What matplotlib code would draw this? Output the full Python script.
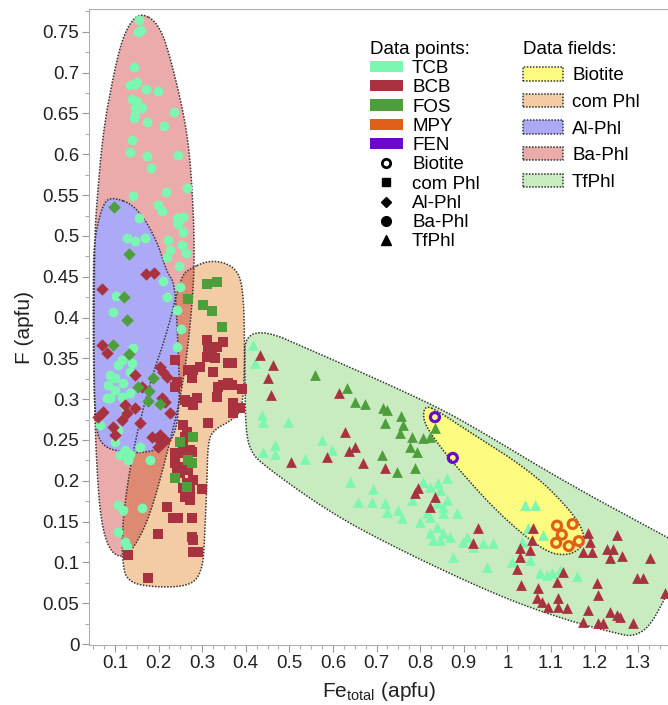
import numpy as np
import matplotlib.pyplot as plt
from matplotlib.patches import Polygon, Patch
from matplotlib.lines import Line2D
from matplotlib.ticker import MultipleLocator, FuncFormatter

plt.rcParams['font.family'] = ['Liberation Sans', 'DejaVu Sans']
plt.rcParams['mathtext.fontset'] = 'custom'
plt.rcParams['mathtext.rm'] = 'Liberation Sans'

# ---- data fields (outline vertices, Fe_total / F) ----
ba_phl_field = [(0.157, 0.775), (0.203, 0.759), (0.233, 0.707), (0.267, 0.626), (0.279, 0.544),
                (0.283, 0.462), (0.272, 0.385), (0.254, 0.311), (0.222, 0.238), (0.180, 0.156),
                (0.141, 0.115), (0.111, 0.105), (0.084, 0.118), (0.066, 0.156), (0.056, 0.238),
                (0.052, 0.324), (0.052, 0.422), (0.054, 0.507), (0.059, 0.544), (0.072, 0.626),
                (0.100, 0.707), (0.123, 0.752)]
al_phl_field = [(0.095, 0.548), (0.150, 0.536), (0.196, 0.495), (0.219, 0.455), (0.238, 0.442),
                (0.245, 0.360), (0.249, 0.299), (0.238, 0.254), (0.203, 0.238), (0.141, 0.233),
                (0.066, 0.241), (0.054, 0.278), (0.050, 0.360), (0.050, 0.442), (0.052, 0.495),
                (0.072, 0.540)]
com_phl_field = [(0.265, 0.458), (0.318, 0.471), (0.371, 0.464), (0.394, 0.442), (0.398, 0.360),
                 (0.394, 0.290), (0.371, 0.275), (0.325, 0.262), (0.313, 0.246), (0.311, 0.197),
                 (0.306, 0.136), (0.302, 0.094), (0.279, 0.072), (0.203, 0.069), (0.128, 0.075),
                 (0.116, 0.103), (0.118, 0.156), (0.141, 0.238), (0.180, 0.320), (0.219, 0.381),
                 (0.242, 0.430), (0.254, 0.450)]
tf_phl_field = [(0.398, 0.395), (0.593, 0.350), (0.806, 0.299), (0.907, 0.271), (1.137, 0.197),
                (1.366, 0.131), (1.430, 0.112), (1.400, 0.095), (1.368, 0.063), (1.327, 0.021),
                (1.288, 0.009), (1.251, 0.013), (1.137, 0.029), (0.983, 0.058), (0.754, 0.115),
                (0.593, 0.161), (0.433, 0.222), (0.410, 0.238), (0.400, 0.262), (0.398, 0.324)]
biotite_field = [(0.811, 0.293), (0.845, 0.284), (0.907, 0.262), (1.059, 0.210), (1.150, 0.161),
                 (1.178, 0.134), (1.171, 0.118), (1.137, 0.108), (1.086, 0.113), (0.983, 0.158),
                 (0.875, 0.222), (0.829, 0.254), (0.806, 0.275)]

# ---- data points (Fe_total, F) ----
tcb_circles = [(0.155, 0.765), (0.153, 0.750), (0.160, 0.752), (0.144, 0.707), (0.134, 0.685),
               (0.146, 0.686), (0.150, 0.688), (0.171, 0.680), (0.199, 0.677), (0.139, 0.668),
               (0.150, 0.664), (0.146, 0.658), (0.162, 0.657), (0.146, 0.648), (0.235, 0.652),
               (0.144, 0.645), (0.173, 0.640), (0.212, 0.635), (0.139, 0.618), (0.134, 0.603),
               (0.173, 0.598), (0.244, 0.599), (0.183, 0.583), (0.141, 0.549), (0.217, 0.554),
               (0.265, 0.559), (0.199, 0.538), (0.208, 0.531), (0.242, 0.522), (0.256, 0.523),
               (0.155, 0.522), (0.244, 0.515), (0.256, 0.505), (0.128, 0.498), (0.146, 0.494),
               (0.169, 0.498), (0.222, 0.495), (0.254, 0.489), (0.263, 0.479), (0.226, 0.483),
               (0.219, 0.474), (0.247, 0.463), (0.210, 0.445), (0.249, 0.438), (0.102, 0.426),
               (0.219, 0.425), (0.242, 0.409), (0.251, 0.386), (0.242, 0.364), (0.095, 0.407),
               (0.141, 0.363), (0.116, 0.348), (0.107, 0.342), (0.139, 0.344), (0.089, 0.330),
               (0.100, 0.326), (0.134, 0.333), (0.118, 0.320), (0.084, 0.317), (0.100, 0.311),
               (0.134, 0.308), (0.082, 0.301), (0.089, 0.301), (0.116, 0.303), (0.123, 0.290),
               (0.107, 0.262), (0.066, 0.268), (0.157, 0.241), (0.100, 0.248), (0.123, 0.238),
               (0.134, 0.233), (0.111, 0.232), (0.180, 0.225), (0.130, 0.225), (0.107, 0.170),
               (0.118, 0.164), (0.162, 0.167), (0.107, 0.137), (0.123, 0.125), (0.128, 0.119)]
bcb_diamonds = [(0.171, 0.453), (0.189, 0.455), (0.070, 0.435), (0.070, 0.366), (0.082, 0.357),
                (0.146, 0.330), (0.162, 0.315), (0.203, 0.339), (0.210, 0.333), (0.219, 0.327),
                (0.073, 0.284), (0.061, 0.278), (0.095, 0.266), (0.100, 0.256), (0.116, 0.275),
                (0.128, 0.283), (0.146, 0.289), (0.157, 0.271), (0.123, 0.293), (0.226, 0.283),
                (0.203, 0.256), (0.196, 0.252), (0.215, 0.250), (0.185, 0.254), (0.208, 0.301),
                (0.215, 0.297), (0.208, 0.246), (0.199, 0.241)]
fos_diamonds = [(0.098, 0.536), (0.132, 0.478), (0.121, 0.425), (0.128, 0.397), (0.095, 0.366),
                (0.132, 0.355), (0.187, 0.326), (0.153, 0.315), (0.178, 0.310), (0.176, 0.298),
                (0.203, 0.294)]
bcb_squares = [(0.311, 0.373), (0.313, 0.363), (0.334, 0.364), (0.348, 0.370), (0.323, 0.352),
               (0.311, 0.352), (0.329, 0.350), (0.359, 0.344), (0.368, 0.344), (0.295, 0.339),
               (0.279, 0.336), (0.267, 0.336), (0.277, 0.326), (0.325, 0.333), (0.348, 0.317),
               (0.359, 0.320), (0.368, 0.317), (0.336, 0.315), (0.391, 0.312), (0.334, 0.303),
               (0.288, 0.301), (0.261, 0.299), (0.279, 0.293), (0.371, 0.295), (0.387, 0.289),
               (0.371, 0.283), (0.313, 0.271), (0.256, 0.268), (0.265, 0.260), (0.261, 0.254),
               (0.256, 0.241), (0.277, 0.235), (0.254, 0.234), (0.238, 0.234), (0.267, 0.223),
               (0.238, 0.222), (0.254, 0.217), (0.242, 0.213), (0.249, 0.210), (0.267, 0.213),
               (0.265, 0.197), (0.272, 0.189), (0.300, 0.190), (0.261, 0.180), (0.272, 0.176),
               (0.219, 0.168), (0.233, 0.154), (0.245, 0.154), (0.277, 0.154), (0.199, 0.135),
               (0.277, 0.131), (0.279, 0.127), (0.279, 0.113), (0.290, 0.113), (0.176, 0.081),
               (0.130, 0.109), (0.238, 0.348), (0.242, 0.321), (0.238, 0.315), (0.265, 0.297),
               (0.272, 0.238), (0.279, 0.201), (0.256, 0.191)]
fos_squares = [(0.311, 0.441), (0.334, 0.444), (0.267, 0.423), (0.302, 0.415), (0.322, 0.408),
               (0.345, 0.389), (0.249, 0.248), (0.279, 0.254), (0.267, 0.225), (0.277, 0.222),
               (0.238, 0.203), (0.265, 0.192)]
tcb_triangles = [(0.417, 0.366), (0.421, 0.344), (0.437, 0.281), (0.440, 0.272), (0.497, 0.272),
                 (0.467, 0.244), (0.440, 0.235), (0.467, 0.233), (0.536, 0.227), (0.575, 0.250),
                 (0.598, 0.238), (0.639, 0.199), (0.692, 0.190), (0.657, 0.174), (0.690, 0.174),
                 (0.719, 0.173), (0.724, 0.162), (0.749, 0.164), (0.758, 0.154), (0.781, 0.176),
                 (0.806, 0.199), (0.823, 0.192), (0.841, 0.197), (0.862, 0.203), (0.800, 0.150),
                 (0.823, 0.156), (0.823, 0.136), (0.839, 0.143), (0.846, 0.127), (0.830, 0.127),
                 (0.852, 0.136), (0.852, 0.161), (0.862, 0.176), (0.839, 0.173), (0.852, 0.168),
                 (0.885, 0.161), (0.868, 0.131), (0.898, 0.125), (0.921, 0.119), (0.944, 0.124),
                 (0.967, 0.124), (0.875, 0.107), (0.953, 0.094), (1.041, 0.170), (1.063, 0.170),
                 (1.047, 0.142), (1.082, 0.134), (1.034, 0.125), (1.011, 0.100), (1.052, 0.103),
                 (1.075, 0.087), (1.091, 0.085), (1.102, 0.087), (1.121, 0.091), (1.160, 0.083),
                 (0.846, 0.189), (0.816, 0.161), (0.907, 0.131)]
bcb_triangles = [(0.433, 0.354), (0.462, 0.342), (0.451, 0.326), (0.458, 0.305), (0.614, 0.308),
                 (0.628, 0.260), (0.637, 0.237), (0.651, 0.241), (0.586, 0.229), (0.504, 0.223),
                 (0.669, 0.222), (0.719, 0.216), (0.795, 0.191), (0.788, 0.185), (0.834, 0.180),
                 (0.823, 0.168), (0.933, 0.142), (0.921, 0.124), (1.059, 0.142), (1.057, 0.127),
                 (1.029, 0.118), (1.029, 0.107), (1.052, 0.115), (1.022, 0.092), (1.128, 0.088),
                 (1.185, 0.136), (1.190, 0.125), (1.174, 0.113), (1.194, 0.113), (1.252, 0.134),
                 (1.229, 0.116), (1.242, 0.116), (1.236, 0.105), (1.263, 0.108), (1.327, 0.105),
                 (1.031, 0.072), (1.070, 0.069), (1.114, 0.076), (1.068, 0.056), (1.080, 0.051),
                 (1.093, 0.045), (1.116, 0.056), (1.116, 0.045), (1.137, 0.044), (1.206, 0.075),
                 (1.208, 0.060), (1.185, 0.042), (1.174, 0.027), (1.208, 0.026), (1.220, 0.026),
                 (1.236, 0.039), (1.252, 0.036), (1.258, 0.033), (1.288, 0.026), (1.297, 0.081),
                 (1.311, 0.081), (1.362, 0.063)]
fos_triangles = [(0.559, 0.330), (0.632, 0.314), (0.651, 0.297), (0.673, 0.294), (0.715, 0.289),
                 (0.724, 0.287), (0.756, 0.279), (0.719, 0.271), (0.761, 0.268), (0.754, 0.259),
                 (0.781, 0.254), (0.806, 0.252), (0.777, 0.241), (0.793, 0.235), (0.823, 0.254),
                 (0.834, 0.265), (0.713, 0.232), (0.788, 0.216), (0.747, 0.211)]
fen_biotite = [(0.834, 0.278), (0.875, 0.228)]
mpy_biotite = [(1.114, 0.145), (1.150, 0.147), (1.125, 0.134), (1.112, 0.124), (1.141, 0.120),
               (1.164, 0.126)]

# colours
c_tcb, c_bcb, c_fos, c_mpy, c_fen = '#7CF7B2', '#A8323F', '#4E9E3C', '#E0601A', '#6A0AC8'
f_bio, f_com, f_al, f_ba, f_tf = '#FDFC80', '#F3CBA4', '#ACA9F7', '#EBABAB', '#C9EBC0'
f_ba_com = '#DE8A72'
outline = dict(edgecolor='#333333', linestyle=(0, (1, 1)), linewidth=1.1)


def smooth(pts, n=3):
    # Chaikin corner cutting to round the field outlines
    p = np.asarray(pts, float)
    for _ in range(n):
        nxt = np.roll(p, -1, axis=0)
        q = np.empty((2 * len(p), 2))
        q[0::2] = 0.75 * p + 0.25 * nxt
        q[1::2] = 0.25 * p + 0.75 * nxt
        p = q
    return p


fig = plt.figure(figsize=(6.68, 7.05), dpi=100)
ax = fig.add_axes([89 / 668, 60 / 705, 579 / 668, 636 / 705])

fields = {'ba': smooth(ba_phl_field), 'com': smooth(com_phl_field), 'al': smooth(al_phl_field),
          'tf': smooth(tf_phl_field), 'bio': smooth(biotite_field)}

ba_patch = Polygon(fields['ba'], closed=True, facecolor=f_ba, edgecolor='none', zorder=1)
ax.add_patch(ba_patch)
ax.add_patch(Polygon(fields['com'], closed=True, facecolor=f_com, edgecolor='none', zorder=1))
overlap = Polygon(fields['com'], closed=True, facecolor=f_ba_com, edgecolor='none', zorder=1.1)
ax.add_patch(overlap)
overlap.set_clip_path(ba_patch)
ax.add_patch(Polygon(fields['al'], closed=True, facecolor=f_al, edgecolor='none', zorder=1.2))
ax.add_patch(Polygon(fields['tf'], closed=True, facecolor=f_tf, edgecolor='none', zorder=1))
ax.add_patch(Polygon(fields['bio'], closed=True, facecolor=f_bio, edgecolor='none', zorder=1.3))
for name in ['ba', 'com', 'al', 'tf', 'bio']:
    ax.add_patch(Polygon(fields[name], closed=True, facecolor='none', zorder=2, **outline))


def scatter_pts(ax, data, marker, size, **kw):
    x, y = zip(*data)
    ax.scatter(x, y, marker=marker, s=size, zorder=3, **kw)


scatter_pts(ax, tcb_circles, 'o', 50, color=c_tcb, linewidths=0)
scatter_pts(ax, bcb_diamonds, 'D', 40, color=c_bcb, linewidths=0)
scatter_pts(ax, fos_diamonds, 'D', 40, color=c_fos, linewidths=0)
scatter_pts(ax, bcb_squares, 's', 42, color=c_bcb, linewidths=0)
scatter_pts(ax, fos_squares, 's', 42, color=c_fos, linewidths=0)
scatter_pts(ax, tcb_triangles, '^', 60, color=c_tcb, linewidths=0)
scatter_pts(ax, fos_triangles, '^', 60, color=c_fos, linewidths=0)
scatter_pts(ax, bcb_triangles, '^', 60, color=c_bcb, linewidths=0)
scatter_pts(ax, fen_biotite, 'o', 42, facecolors='none', edgecolors=c_fen, linewidths=2.3)
scatter_pts(ax, mpy_biotite, 'o', 42, facecolors='none', edgecolors=c_mpy, linewidths=2.3)

# axes
ax.set_xlim(0.0404, 1.3686)
ax.set_ylim(-0.0012, 0.778)
ax.set_xticks(np.arange(0.1, 1.31, 0.1))
ax.set_yticks(np.arange(0, 0.751, 0.05))
ax.xaxis.set_minor_locator(MultipleLocator(0.025))
ax.yaxis.set_minor_locator(MultipleLocator(0.025))
fmt = FuncFormatter(lambda v, p: f'{round(v, 3):g}')
ax.xaxis.set_major_formatter(fmt)
ax.yaxis.set_major_formatter(fmt)
ax.tick_params(which='both', direction='out', color='#9a9a9a', labelsize=13.5,
               labelcolor='#222222', pad=2)
ax.tick_params(which='major', length=5)
ax.tick_params(which='minor', length=3)
ax.spines['right'].set_visible(False)
for s in ['left', 'bottom', 'top']:
    ax.spines[s].set_color('#b0b0b0')
ax.set_xlabel(r'Fe$_{\mathrm{total}}$ (apfu)', fontsize=15, color='#222222', labelpad=6)
ax.set_ylabel('F (apfu)', fontsize=15, color='#222222', labelpad=6)

# legends
h1 = [Patch(facecolor=c, edgecolor='none') for c in [c_tcb, c_bcb, c_fos, c_mpy, c_fen]]
h1 += [Line2D([], [], ls='none', marker='o', markersize=6, mfc='none', mec='black', mew=2),
       Line2D([], [], ls='none', marker='s', markersize=6, color='black'),
       Line2D([], [], ls='none', marker='D', markersize=5.5, color='black'),
       Line2D([], [], ls='none', marker='o', markersize=7, color='black'),
       Line2D([], [], ls='none', marker='^', markersize=7, color='black')]
l1 = ['TCB', 'BCB', 'FOS', 'MPY', 'FEN', 'Biotite', 'com Phl', 'Al-Phl', 'Ba-Phl', 'TfPhl']
leg1 = ax.legend(h1, l1, title='Data points:', loc='upper left', bbox_to_anchor=(0.485, 0.950),
                 frameon=False, fontsize=13.5, title_fontsize=13.5, handlelength=1.75,
                 handleheight=0.55, handletextpad=0.5, labelspacing=0.12, borderpad=0,
                 borderaxespad=0, alignment='left')
ax.add_artist(leg1)
h2 = [Patch(facecolor=c, **outline) for c in [f_bio, f_com, f_al, f_ba, f_tf]]
l2 = ['Biotite', 'com Phl', 'Al-Phl', 'Ba-Phl', 'TfPhl']
ax.legend(h2, l2, title='Data fields:', loc='upper left', bbox_to_anchor=(0.75, 0.950),
          frameon=False, fontsize=13.5, title_fontsize=13.5, handlelength=2.1, handleheight=0.72,
          handletextpad=0.5, labelspacing=0.5, borderpad=0, borderaxespad=0,
          alignment='left')

fig.savefig('out.png', dpi=100)
